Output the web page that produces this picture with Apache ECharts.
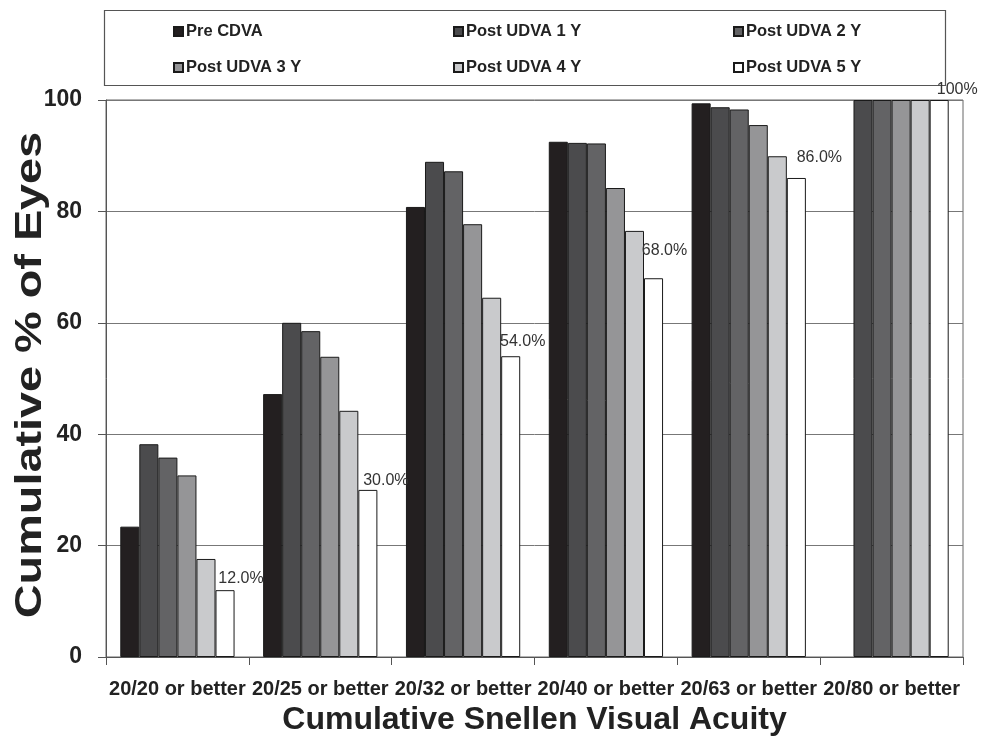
<!DOCTYPE html>
<html>
<head>
<meta charset="utf-8">
<script src="https://cdn.jsdelivr.net/npm/echarts@6/dist/echarts.min.js"></script>
<style>
html,body{margin:0;padding:0;background:#fff;}
#chart{width:983px;height:738px;}
</style>
</head>
<body>
<div id="chart"></div>
<script>
var categories = ['20/20 or better','20/25 or better','20/32 or better','20/40 or better','20/63 or better','20/80 or better'];
var seriesNames = ['Pre CDVA','Post UDVA 1 Y','Post UDVA 2 Y','Post UDVA 3 Y','Post UDVA 4 Y','Post UDVA 5 Y'];
var preCDVA = [23.4, 47.2, 80.8, 92.5, 99.4, null];
var post1Y  = [38.2, 60.0, 88.9, 92.3, 98.7, 100];
var post2Y  = [35.8, 58.5, 87.2, 92.2, 98.3, 100];
var post3Y  = [32.6, 53.9, 77.7, 84.2, 95.5, 100];
var post4Y  = [17.6, 44.2, 64.5, 76.5, 89.9, 100];
var post5Y  = [12.0, 30.0, 54.0, 68.0, 86.0, 100];
var post5YLabels = ['12.0%','30.0%','54.0%','68.0%','86.0%','100%'];
var yTicks = [0, 20, 40, 60, 80, 100];
var xTitle = 'Cumulative Snellen Visual Acuity';
var yTitle = 'Cumulative % of Eyes';

// styling (not data)
var colors = ['#231f20','#4b4b4d','#636365','#959597','#c9cacc','#ffffff'];
var labelOffsets = [[16,1],[18,4],[12,-2],[11,-15],[23,-7],[18,3]];

var allValues = [preCDVA, post1Y, post2Y, post3Y, post4Y, post5Y];

var series = allValues.map(function(vals, i){
  var s = {
    name: seriesNames[i],
    type: 'bar',
    barGap: '0%',
    barCategoryGap: '20%',
    itemStyle: {color: colors[i], borderColor: '#1a1a1a', borderWidth: 1},
    emphasis: {disabled: true},
    data: vals.slice()
  };
  if (i === 5) {
    s.data = vals.map(function(v, k){
      return {
        value: v,
        label: {
          show: true,
          position: 'top',
          offset: labelOffsets[k],
          formatter: post5YLabels[k],
          fontFamily: 'Liberation Sans',
          fontSize: 16,
          color: '#333'
        }
      };
    });
  }
  return s;
});

var legendPos = [[173,23],[453,23],[733,23],[173,59],[453,59],[733,59]];
var legends = seriesNames.map(function(n, i){
  return {
    data: [n],
    left: legendPos[i][0],
    top: legendPos[i][1],
    padding: 0,
    icon: 'rect',
    itemWidth: 9,
    itemHeight: 9,
    itemGap: 0,
    selectedMode: false,
    textStyle: {fontFamily: 'Liberation Sans', fontWeight: 'bold', fontSize: 16.5, color: '#222', padding: [0,0,0,-2]}
  };
});

var chart = echarts.init(document.getElementById('chart'), null, {renderer: 'canvas'});
chart.setOption({
  backgroundColor: '#fff',
  animation: false,
  legend: legends,
  graphic: [{
    type: 'rect',
    shape: {x: 104.5, y: 10.5, width: 841, height: 75},
    style: {fill: 'none', stroke: '#555', lineWidth: 1.2},
    silent: true
  }, {
    type: 'text',
    x: 31,
    y: 375,
    rotation: Math.PI / 2,
    scaleX: 1.3,
    scaleY: 1,
    style: {
      text: yTitle,
      fontFamily: 'Liberation Sans',
      fontWeight: 'bold',
      fontSize: 36,
      fill: '#222',
      align: 'center',
      verticalAlign: 'middle'
    },
    silent: true
  }],
  grid: {left: 106, right: 20, top: 100, bottom: 81, containLabel: false, outerBoundsMode: 'none', show: true, borderColor: '#666', borderWidth: 1, backgroundColor: 'transparent'},
  xAxis: {
    type: 'category',
    data: categories,
    name: xTitle,
    nameLocation: 'middle',
    nameGap: 45,
    nameTextStyle: {fontFamily: 'Liberation Sans', fontWeight: 'bold', fontSize: 32, color: '#222'},
    axisLine: {lineStyle: {color: '#555', width: 1}},
    axisTick: {show: true, length: 8, alignWithLabel: false, lineStyle: {color: '#555'}},
    axisLabel: {fontFamily: 'Liberation Sans', fontWeight: 'bold', fontSize: 20, color: '#222', margin: 22, interval: 0}
  },
  yAxis: {
    type: 'value',
    min: yTicks[0],
    max: yTicks[yTicks.length-1],
    interval: 20,
    axisLine: {show: true, lineStyle: {color: '#555', width: 1}},
    axisTick: {show: true, length: 8, inside: false, lineStyle: {color: '#555'}},
    axisLabel: {fontFamily: 'Liberation Sans', fontWeight: 'bold', fontSize: 23, color: '#222', margin: 24},
    splitLine: {show: true, lineStyle: {color: '#777', width: 1}}
  },
  series: series
});
</script>
</body>
</html>
